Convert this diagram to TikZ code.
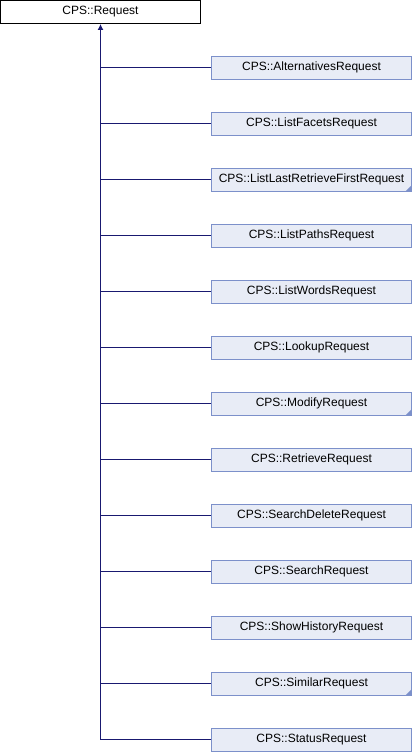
\documentclass[tikz,border=0pt]{standalone}
\usepackage{fontspec}
\setmainfont{Liberation Sans}
\usetikzlibrary{arrows.meta}
\definecolor{edgeblue}{RGB}{25,25,112}
\definecolor{boxfill}{RGB}{232,236,246}
\definecolor{boxline}{RGB}{124,144,202}
\tikzset{
  base/.style={draw=black, fill=white, line width=1pt, minimum width=200pt, minimum height=23pt, inner sep=0pt, font=\fontsize{12}{14}\selectfont},
  child/.style={draw=boxline, fill=boxfill, line width=1pt, minimum width=200pt, minimum height=23pt, inner sep=0pt, font=\fontsize{12}{14}\selectfont},
  conn/.style={draw=edgeblue, line width=1pt},
  corner/.style={fill=boxline, draw=none},
}
\begin{document}
\begin{tikzpicture}[x=1pt,y=-1pt]
\useasboundingbox (0,0) rectangle (412,752);
\node[base] (req) at (100.5,12) {CPS::Request};
\foreach \i/\name/\txt in {
  0/alt/CPS::AlternativesRequest,
  1/lfacet/CPS::ListFacetsRequest,
  2/llrf/CPS::ListLastRetrieveFirstRequest,
  3/lpath/CPS::ListPathsRequest,
  4/lword/CPS::ListWordsRequest,
  5/lookup/CPS::LookupRequest,
  6/modify/CPS::ModifyRequest,
  7/retrieve/CPS::RetrieveRequest,
  8/sdel/CPS::SearchDeleteRequest,
  9/search/CPS::SearchRequest,
  10/shist/CPS::ShowHistoryRequest,
  11/similar/CPS::SimilarRequest,
  12/status/CPS::StatusRequest}{
  \node[child] (\name) at (311.5,{67.75+56*\i}) {\txt};
  \draw[conn] (\name.west) -- (\name.west -| req.south);
}
\foreach \name in {llrf,modify,similar}{
  \fill[corner] ([xshift=-0.5pt,yshift=0.5pt]\name.south east) -- ++(-6,0) -- ++(6,-6) -- cycle;
}
\coordinate (trunkend) at (status.west -| req.south);
\draw[conn, -{Latex[length=6pt,width=6pt]}] (trunkend) -- (req.south);
\end{tikzpicture}
\end{document}
